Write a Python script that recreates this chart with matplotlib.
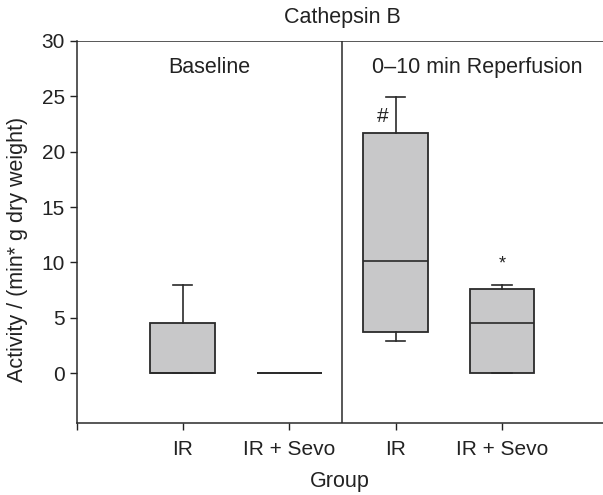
import matplotlib.pyplot as plt

plt.rcParams['font.family'] = ['Liberation Sans', 'DejaVu Sans']

# box statistics
groups = ['IR', 'IR + Sevo', 'IR', 'IR + Sevo']
positions = [1, 2, 3, 4]
whislo = [0, 0, 2.9, 0]
q1 = [0, 0, 3.7, 0]
med = [0, 0, 10.1, 4.5]
q3 = [4.5, 0, 21.7, 7.6]
whishi = [8.0, 0, 24.9, 7.95]
marks = ['', '', '#', '*']
mark_x = [0, 0, 2.88, 4.0]
mark_y = [0, 0, 23.2, 9.9]
panels = ['Baseline', '0\u201310 min Reperfusion']
panel_x = [1.245, 3.77]

stats = []
for i in range(len(groups)):
    stats.append(dict(whislo=whislo[i], q1=q1[i], med=med[i], q3=q3[i],
                      whishi=whishi[i], fliers=[], label=groups[i]))

fig = plt.figure(figsize=(6.03, 4.95), dpi=100)
ax = fig.add_axes([0.127, 0.1455, 0.873, 0.7717])

edge = '#2a2a2a'
txt = '#222222'
ax.bxp(stats, positions=positions, widths=0.61, patch_artist=True,
       showfliers=False,
       boxprops=dict(facecolor='#c8c8c9', edgecolor=edge, linewidth=1.3),
       medianprops=dict(color=edge, linewidth=1.2),
       whiskerprops=dict(color=edge, linewidth=1.2),
       capprops=dict(color=edge, linewidth=1.2), capwidths=0.18)

for xm, m, yv in zip(mark_x, marks, mark_y):
    if m:
        ax.text(xm, yv, m, ha='center', va='center',
                fontsize=15 if m == '#' else 13, color=txt)

ax.axvline(2.5, color=edge, linewidth=1.1)
ax.axhline(30, color=edge, linewidth=1.1)
for t, xp in zip(panels, panel_x):
    ax.text(xp, 27.6, t, ha='center', va='center', fontsize=15.5, color=txt)

ax.set_xlim(0, 4.95)
ax.set_ylim(-4.5, 30)
ax.set_yticks([0, 5, 10, 15, 20, 25, 30])
ax.set_xticks([0] + positions)
ax.set_xticklabels([''] + groups)
ax.tick_params(axis='both', labelsize=15, colors=txt, length=5, width=1)
ax.tick_params(axis='x', pad=7)
for s in ['top', 'right']:
    ax.spines[s].set_visible(False)
for s in ['left', 'bottom']:
    ax.spines[s].set_color(edge)
    ax.spines[s].set_linewidth(1.1)

ax.set_xlabel('Group', fontsize=15.5, color=txt, labelpad=9)
ax.set_ylabel('Activity / (min* g dry weight)', fontsize=15.5, color=txt)
ax.yaxis.set_label_coords(-0.092, 0.453)
fig.text(0.567, 0.964, 'Cathepsin B', ha='center', va='center', fontsize=15.5,
         color=txt)

fig.savefig('out.png', dpi=100)
